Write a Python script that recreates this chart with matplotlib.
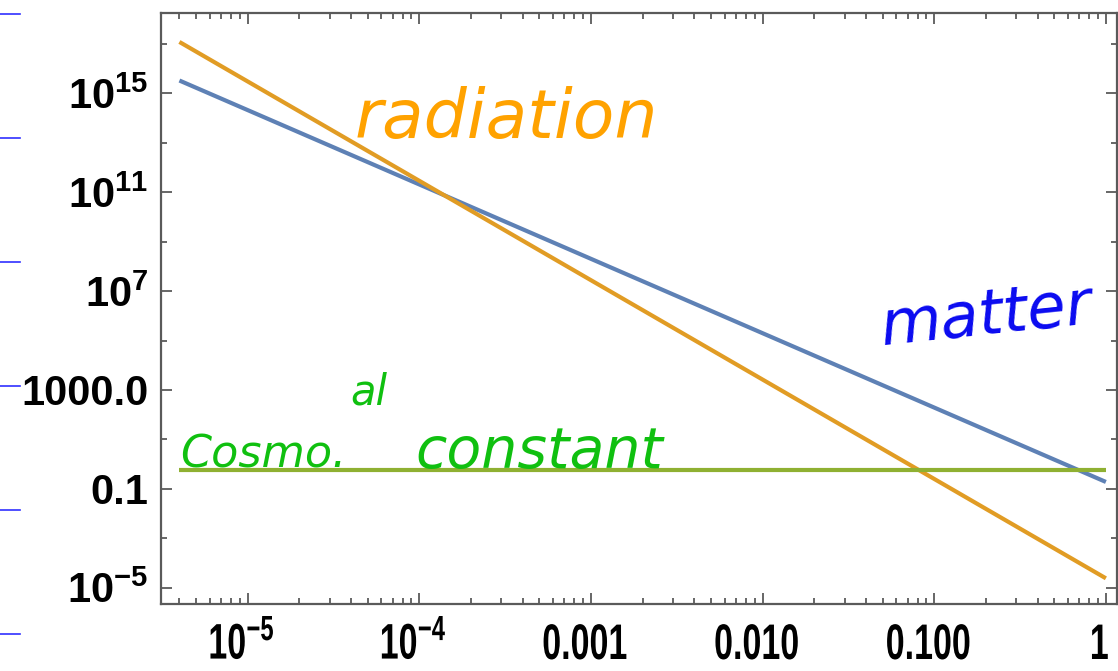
import matplotlib
matplotlib.use('Agg')
import matplotlib.pyplot as plt
from matplotlib.lines import Line2D
from matplotlib.patches import PathPatch
from matplotlib.textpath import TextPath
from matplotlib.font_manager import FontProperties
from matplotlib.transforms import Affine2D
from matplotlib.ticker import FixedLocator, LogLocator, NullFormatter

# scale factor a at both ends of each curve, and energy densities read there
a_ends = [4.0e-6, 1.0]
rho_matter = [3.3e15, 0.19]
rho_radiation = [1.2e17, 2.4e-5]
rho_lambda = [0.58, 0.58]

xtick_vals = [1e-5, 1e-4, 1e-3, 1e-2, 1e-1, 1.0]
xtick_labels = [r'$\mathbf{10^{-5}}$', r'$\mathbf{10^{-4}}$', '0.001', '0.010', '0.100', '1']
ytick_vals = [1e-5, 1e-1, 1e3, 1e7, 1e11, 1e15]
ytick_labels = [r'$\mathbf{10^{-5}}$', '0.1', '1000.0',
                r'$\mathbf{10^{7}}$', r'$\mathbf{10^{11}}$', r'$\mathbf{10^{15}}$']
ytick_minor = [1e-3, 1e1, 1e5, 1e9, 1e13, 1e17]

plt.rcParams['mathtext.fontset'] = 'custom'
plt.rcParams['mathtext.bf'] = 'Liberation Sans:bold'
plt.rcParams['mathtext.rm'] = 'Liberation Sans:bold'

W, H = 1118, 671
fig = plt.figure(figsize=(W / 100, H / 100), dpi=100)
ax = fig.add_axes([0.1437, 0.0998, 0.8553, 0.8812])

ax.set_xscale('log')
ax.set_yscale('log')
ax.set_xlim(3.11e-6, 1.159)
ax.set_ylim(10**-5.66, 10**18.26)

ax.plot(a_ends, rho_matter, color='#5E81B5', lw=3.0, solid_capstyle='butt')
ax.plot(a_ends, rho_radiation, color='#E19C24', lw=3.0, solid_capstyle='butt')
ax.plot(a_ends, rho_lambda, color='#8FB032', lw=3.0, solid_capstyle='butt')

for s in ax.spines.values():
    s.set_color('#5a5a5a')
    s.set_linewidth(1.6)

ax.xaxis.set_major_locator(FixedLocator(xtick_vals))
ax.xaxis.set_minor_locator(LogLocator(base=10, subs=range(2, 10), numticks=20))
ax.xaxis.set_minor_formatter(NullFormatter())
ax.xaxis.set_major_formatter(NullFormatter())
ax.yaxis.set_major_locator(FixedLocator(ytick_vals))
ax.yaxis.set_minor_locator(FixedLocator(ytick_minor))
ax.yaxis.set_minor_formatter(NullFormatter())
ax.set_yticklabels(ytick_labels)

ax.tick_params(which='both', direction='in', top=True, right=True,
               color='#5a5a5a', width=1.3)
ax.tick_params(which='major', length=8)
ax.tick_params(which='minor', length=4)
ax.tick_params(axis='y', which='major', pad=9, labelsize=30)

for lab in ax.get_yticklabels():
    lab.set_fontfamily('Liberation Sans')
    lab.set_fontweight('bold')

# narrow bold labels under the x axis, drawn as squeezed text outlines
bold = FontProperties(family='Liberation Sans', weight='bold')
for val, txt in zip(xtick_vals, xtick_labels):
    tp = TextPath((0, 0), txt, size=1, prop=bold)
    bb = tp.get_extents()
    xpx = ax.transData.transform((val, 1.0))[0] - 6
    tr = (Affine2D().translate(-(bb.x0 + bb.x1) / 2, 0)
          .scale(34, 50).translate(xpx, 12))
    fig.add_artist(PathPatch(tp, transform=tr, color='black', lw=0))

# handwritten notes
hand = dict(family='DejaVu Sans', style='oblique')
fig.text(355 / W, 1 - 138 / H, 'radiation', color='#FFA200', fontsize=49, **hand)
fig.text(878 / W, 1 - 345 / H, 'matter', color='#0A0AF0', fontsize=45,
         rotation=6, **hand)
fig.text(180 / W, 1 - 468 / H, 'Cosmo.', color='#10C010', fontsize=32, **hand)
fig.text(350 / W, 1 - 405 / H, 'al', color='#10C010', fontsize=30, **hand)
fig.text(415 / W, 1 - 468 / H, 'constant', color='#10C010', fontsize=41, **hand)

# ruled notebook margin marks on the left edge
for yp in [14, 138, 262, 386, 510, 634]:
    fig.add_artist(Line2D([0, 20 / W], [1 - yp / H] * 2,
                          color='#3030ff', lw=1.2, transform=fig.transFigure))

fig.savefig('out.png', dpi=100)
